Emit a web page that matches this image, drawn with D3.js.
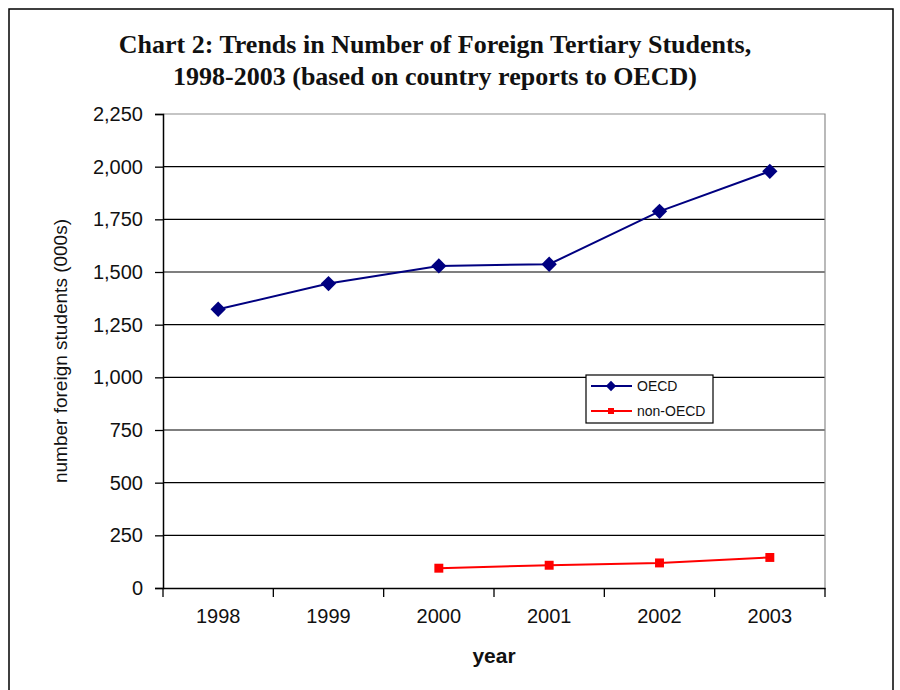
<!DOCTYPE html>
<html>
<head>
<meta charset="utf-8">
<script src="https://cdn.jsdelivr.net/npm/d3@7"></script>
<style>
  body { margin: 0; background: #fff; }
  svg { display: block; }
</style>
</head>
<body>
<div class="plot"></div>
<script>
// data (thousands of students)
const years = ["1998", "1999", "2000", "2001", "2002", "2003"]
const oecd = [1323, 1445, 1529, 1537, 1788, 1978]
const nonOecd = [null, null, 94, 108, 119, 145]
const yTicks = [0, 250, 500, 750, 1000, 1250, 1500, 1750, 2000, 2250]
const titleLines = ["Chart 2: Trends in Number of Foreign Tertiary Students,",
                    "1998-2003 (based on country reports to OECD)"]

let margin = {top: 114, right: 75, bottom: 102, left: 163},
    W = 900, H = 690,
    width = W - margin.left - margin.right,
    height = H - margin.top - margin.bottom

let svg = d3.select(".plot")
  .append("svg")
  .attr("width", W)
  .attr("height", H)

// outer frame
svg.append("rect")
  .attr("x", 9).attr("y", 9)
  .attr("width", 884).attr("height", 700)
  .attr("fill", "none")
  .attr("stroke", "#000")
  .attr("stroke-width", 1.5)

// title
svg.append("g").selectAll("text")
  .data(titleLines)
  .enter()
  .append("text")
  .attr("x", 435)
  .attr("y", (d, i) => 53 + i * 32)
  .attr("text-anchor", "middle")
  .style("font-family", "'Liberation Serif', 'Times New Roman', serif")
  .style("font-weight", "bold")
  .style("font-size", "26px")
  .attr("fill", "#111")
  .text(d => d)

let g = svg.append("g")
  .attr("transform", "translate(" + margin.left + "," + margin.top + ")")

let xScale = d3.scaleBand()
  .domain(years)
  .range([0, width])

let yScale = d3.scaleLinear()
  .domain([0, 2250])
  .range([height, 0])

// gridlines
g.append("g").selectAll("line")
  .data(yTicks.slice(1, -1))
  .enter()
  .append("line")
  .attr("x1", 0).attr("x2", width)
  .attr("y1", d => yScale(d)).attr("y2", d => yScale(d))
  .attr("stroke", "#000")
  .attr("stroke-width", 1.2)

// plot area top / right border (gray)
g.append("path")
  .attr("d", "M0," + yScale(2250) + "H" + width + "V" + height)
  .attr("fill", "none")
  .attr("stroke", "#8c8c8c")
  .attr("stroke-width", 1.2)

// y axis
let yAxis = d3.axisLeft(yScale)
  .tickValues(yTicks)
  .tickSize(8)
  .tickPadding(12)
  .tickFormat(d3.format(","))
let yg = g.append("g").call(yAxis)
yg.select(".domain").attr("stroke-width", 1.5)
yg.selectAll(".tick line").attr("stroke-width", 1.3)
yg.selectAll("text")
  .style("font-family", "'Liberation Sans', Arial, sans-serif")
  .style("font-size", "20px")
  .attr("fill", "#111")

// x axis, ticks on category boundaries
let xAxis = d3.axisBottom(xScale)
  .tickSize(0)
  .tickPadding(21)
let xg = g.append("g")
  .attr("transform", "translate(0," + height + ")")
  .call(xAxis)
xg.select(".domain").attr("stroke-width", 1.5)
xg.selectAll("text")
  .style("font-family", "'Liberation Sans', Arial, sans-serif")
  .style("font-size", "20px")
  .attr("fill", "#111")
xg.selectAll(".bound")
  .data(years.concat(["end"]))
  .enter()
  .append("line")
  .attr("class", "bound")
  .attr("x1", (d, i) => i * xScale.bandwidth())
  .attr("x2", (d, i) => i * xScale.bandwidth())
  .attr("y1", 0).attr("y2", 9)
  .attr("stroke", "#000")
  .attr("stroke-width", 1.3)

// axis titles
svg.append("text")
  .attr("transform", "translate(67," + (margin.top + height / 2) + ") rotate(-90)")
  .attr("text-anchor", "middle")
  .style("font-family", "'Liberation Sans', Arial, sans-serif")
  .style("font-size", "19px")
  .attr("fill", "#111")
  .text("number foreign students (000s)")

svg.append("text")
  .attr("x", margin.left + width / 2)
  .attr("y", 663)
  .attr("text-anchor", "middle")
  .style("font-family", "'Liberation Sans', Arial, sans-serif")
  .style("font-size", "21px")
  .style("font-weight", "bold")
  .attr("fill", "#111")
  .text("year")

let cx = d => xScale(d) + xScale.bandwidth() / 2

// series
let series = [
  {name: "OECD", values: oecd, color: "#000080", shape: d3.symbolDiamond2, size: 150},
  {name: "non-OECD", values: nonOecd, color: "#ff0000", shape: d3.symbolSquare, size: 80}
]

series.forEach(function(s){
  let pts = years.map((y, i) => ({year: y, v: s.values[i]})).filter(p => p.v != null)
  let line = d3.line()
    .x(p => cx(p.year))
    .y(p => yScale(p.v))
  g.append("path")
    .datum(pts)
    .attr("d", line)
    .attr("fill", "none")
    .attr("stroke", s.color)
    .attr("stroke-width", 2)
  g.selectAll(".pt-" + s.name)
    .data(pts)
    .enter()
    .append("path")
    .attr("transform", p => "translate(" + cx(p.year) + "," + yScale(p.v) + ")")
    .attr("d", d3.symbol().type(s.shape).size(s.size))
    .attr("fill", s.color)
})

// legend
let legend = svg.append("g").attr("transform", "translate(586,375)")
legend.append("rect")
  .attr("width", 127).attr("height", 48)
  .attr("fill", "#fff")
  .attr("stroke", "#000")
  .attr("stroke-width", 1.2)
let item = legend.selectAll(".legend")
  .data(series)
  .enter()
  .append("g")
  .attr("class", "legend")
  .attr("transform", (d, i) => "translate(0," + (11 + i * 25) + ")")
item.append("line")
  .attr("x1", 5).attr("x2", 46)
  .attr("stroke", d => d.color)
  .attr("stroke-width", 2)
item.append("path")
  .attr("transform", "translate(25,0)")
  .attr("d", d => d3.symbol().type(d.shape).size(d.size * 0.45)())
  .attr("fill", d => d.color)
item.append("text")
  .attr("x", 51)
  .attr("dy", "0.35em")
  .style("font-family", "'Liberation Sans', Arial, sans-serif")
  .style("font-size", "14px")
  .attr("fill", "#111")
  .text(d => d.name)
</script>
</body>
</html>
